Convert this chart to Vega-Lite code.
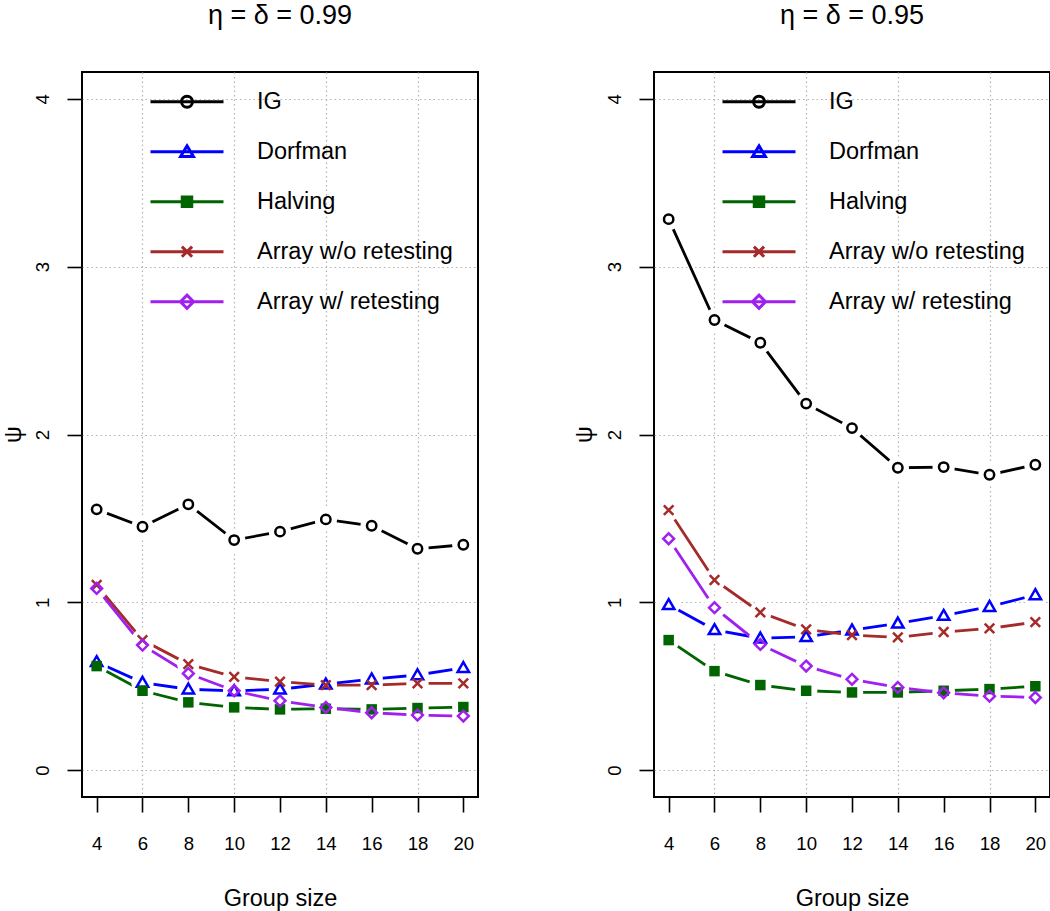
{
  "$schema": "https://vega.github.io/schema/vega-lite/v6.json",
  "padding": 0,
  "background": "white",
  "bounds": "flush",
  "spacing": 176,
  "config": {
    "font": "Liberation Sans",
    "view": {"stroke": "black", "strokeWidth": 2},
    "title": {"fontSize": 27, "fontWeight": "normal", "color": "black", "baseline": "middle", "offset": 34, "anchor": "middle", "frame": "group"},
    "axis": {
      "domain": false,
      "tickColor": "black",
      "tickWidth": 1.6,
      "tickSize": 15,
      "labelFontSize": 18.6,
      "labelColor": "black",
      "titleFontSize": 23.5,
      "titleFontWeight": "normal",
      "titleColor": "black",
      "gridColor": "#b4b4b4",
      "gridDash": [1.5, 3],
      "gridWidth": 1.2
    },
    "legend": {
      "title": null, "orient": "none", "legendX": 67, "legendY": -8.3,
      "symbolSize": 5329, "symbolStrokeWidth": 3, "labelFontSize": 23.5, "labelColor": "black", "labelLimit": 0,
      "labelOffset": 32, "rowPadding": -14.1, "padding": 0
    }
  },
  "resolve": {"scale": {"color": "independent", "x": "independent", "y": "independent"}, "legend": {"color": "independent"}},
  "datasets": {
    "psi": [
      {"panel": "0.99", "method": "IG", "x": 4, "y": 1.554},
      {"panel": "0.99", "method": "IG", "x": 6, "y": 1.45},
      {"panel": "0.99", "method": "IG", "x": 8, "y": 1.584},
      {"panel": "0.99", "method": "IG", "x": 10, "y": 1.371},
      {"panel": "0.99", "method": "IG", "x": 12, "y": 1.421},
      {"panel": "0.99", "method": "IG", "x": 14, "y": 1.494},
      {"panel": "0.99", "method": "IG", "x": 16, "y": 1.456},
      {"panel": "0.99", "method": "IG", "x": 18, "y": 1.319},
      {"panel": "0.99", "method": "IG", "x": 20, "y": 1.343},
      {"panel": "0.99", "method": "Dorfman", "x": 4, "y": 0.645},
      {"panel": "0.99", "method": "Dorfman", "x": 6, "y": 0.522},
      {"panel": "0.99", "method": "Dorfman", "x": 8, "y": 0.482},
      {"panel": "0.99", "method": "Dorfman", "x": 10, "y": 0.472},
      {"panel": "0.99", "method": "Dorfman", "x": 12, "y": 0.482},
      {"panel": "0.99", "method": "Dorfman", "x": 14, "y": 0.512},
      {"panel": "0.99", "method": "Dorfman", "x": 16, "y": 0.542},
      {"panel": "0.99", "method": "Dorfman", "x": 18, "y": 0.567},
      {"panel": "0.99", "method": "Dorfman", "x": 20, "y": 0.61},
      {"panel": "0.99", "method": "Halving", "x": 4, "y": 0.62},
      {"panel": "0.99", "method": "Halving", "x": 6, "y": 0.473},
      {"panel": "0.99", "method": "Halving", "x": 8, "y": 0.404},
      {"panel": "0.99", "method": "Halving", "x": 10, "y": 0.374},
      {"panel": "0.99", "method": "Halving", "x": 12, "y": 0.362},
      {"panel": "0.99", "method": "Halving", "x": 14, "y": 0.366},
      {"panel": "0.99", "method": "Halving", "x": 16, "y": 0.362},
      {"panel": "0.99", "method": "Halving", "x": 18, "y": 0.37},
      {"panel": "0.99", "method": "Halving", "x": 20, "y": 0.376},
      {"panel": "0.99", "method": "Array w/o retesting", "x": 4, "y": 1.103},
      {"panel": "0.99", "method": "Array w/o retesting", "x": 6, "y": 0.775},
      {"panel": "0.99", "method": "Array w/o retesting", "x": 8, "y": 0.632},
      {"panel": "0.99", "method": "Array w/o retesting", "x": 10, "y": 0.556},
      {"panel": "0.99", "method": "Array w/o retesting", "x": 12, "y": 0.527},
      {"panel": "0.99", "method": "Array w/o retesting", "x": 14, "y": 0.507},
      {"panel": "0.99", "method": "Array w/o retesting", "x": 16, "y": 0.507},
      {"panel": "0.99", "method": "Array w/o retesting", "x": 18, "y": 0.517},
      {"panel": "0.99", "method": "Array w/o retesting", "x": 20, "y": 0.517},
      {"panel": "0.99", "method": "Array w/ retesting", "x": 4, "y": 1.083},
      {"panel": "0.99", "method": "Array w/ retesting", "x": 6, "y": 0.745},
      {"panel": "0.99", "method": "Array w/ retesting", "x": 8, "y": 0.576},
      {"panel": "0.99", "method": "Array w/ retesting", "x": 10, "y": 0.473},
      {"panel": "0.99", "method": "Array w/ retesting", "x": 12, "y": 0.413},
      {"panel": "0.99", "method": "Array w/ retesting", "x": 14, "y": 0.374},
      {"panel": "0.99", "method": "Array w/ retesting", "x": 16, "y": 0.342},
      {"panel": "0.99", "method": "Array w/ retesting", "x": 18, "y": 0.328},
      {"panel": "0.99", "method": "Array w/ retesting", "x": 20, "y": 0.322},
      {"panel": "0.95", "method": "IG", "x": 4, "y": 3.283},
      {"panel": "0.95", "method": "IG", "x": 6, "y": 2.682},
      {"panel": "0.95", "method": "IG", "x": 8, "y": 2.547},
      {"panel": "0.95", "method": "IG", "x": 10, "y": 2.184},
      {"panel": "0.95", "method": "IG", "x": 12, "y": 2.038},
      {"panel": "0.95", "method": "IG", "x": 14, "y": 1.802},
      {"panel": "0.95", "method": "IG", "x": 16, "y": 1.806},
      {"panel": "0.95", "method": "IG", "x": 18, "y": 1.76},
      {"panel": "0.95", "method": "IG", "x": 20, "y": 1.82},
      {"panel": "0.95", "method": "Dorfman", "x": 4, "y": 0.985},
      {"panel": "0.95", "method": "Dorfman", "x": 6, "y": 0.836},
      {"panel": "0.95", "method": "Dorfman", "x": 8, "y": 0.786},
      {"panel": "0.95", "method": "Dorfman", "x": 10, "y": 0.794},
      {"panel": "0.95", "method": "Dorfman", "x": 12, "y": 0.834},
      {"panel": "0.95", "method": "Dorfman", "x": 14, "y": 0.875},
      {"panel": "0.95", "method": "Dorfman", "x": 16, "y": 0.921},
      {"panel": "0.95", "method": "Dorfman", "x": 18, "y": 0.974},
      {"panel": "0.95", "method": "Dorfman", "x": 20, "y": 1.044},
      {"panel": "0.95", "method": "Halving", "x": 4, "y": 0.775},
      {"panel": "0.95", "method": "Halving", "x": 6, "y": 0.59},
      {"panel": "0.95", "method": "Halving", "x": 8, "y": 0.507},
      {"panel": "0.95", "method": "Halving", "x": 10, "y": 0.473},
      {"panel": "0.95", "method": "Halving", "x": 12, "y": 0.463},
      {"panel": "0.95", "method": "Halving", "x": 14, "y": 0.463},
      {"panel": "0.95", "method": "Halving", "x": 16, "y": 0.473},
      {"panel": "0.95", "method": "Halving", "x": 18, "y": 0.483},
      {"panel": "0.95", "method": "Halving", "x": 20, "y": 0.5},
      {"panel": "0.95", "method": "Array w/o retesting", "x": 4, "y": 1.549},
      {"panel": "0.95", "method": "Array w/o retesting", "x": 6, "y": 1.133},
      {"panel": "0.95", "method": "Array w/o retesting", "x": 8, "y": 0.94},
      {"panel": "0.95", "method": "Array w/o retesting", "x": 10, "y": 0.839},
      {"panel": "0.95", "method": "Array w/o retesting", "x": 12, "y": 0.805},
      {"panel": "0.95", "method": "Array w/o retesting", "x": 14, "y": 0.791},
      {"panel": "0.95", "method": "Array w/o retesting", "x": 16, "y": 0.823},
      {"panel": "0.95", "method": "Array w/o retesting", "x": 18, "y": 0.845},
      {"panel": "0.95", "method": "Array w/o retesting", "x": 20, "y": 0.882},
      {"panel": "0.95", "method": "Array w/ retesting", "x": 4, "y": 1.379},
      {"panel": "0.95", "method": "Array w/ retesting", "x": 6, "y": 0.968},
      {"panel": "0.95", "method": "Array w/ retesting", "x": 8, "y": 0.749},
      {"panel": "0.95", "method": "Array w/ retesting", "x": 10, "y": 0.62},
      {"panel": "0.95", "method": "Array w/ retesting", "x": 12, "y": 0.541},
      {"panel": "0.95", "method": "Array w/ retesting", "x": 14, "y": 0.493},
      {"panel": "0.95", "method": "Array w/ retesting", "x": 16, "y": 0.461},
      {"panel": "0.95", "method": "Array w/ retesting", "x": 18, "y": 0.441},
      {"panel": "0.95", "method": "Array w/ retesting", "x": 20, "y": 0.433}
    ]
  },
  "hconcat": [
    {
      "title": "η = δ = 0.99",
      "width": 396,
      "height": 725,
      "data": {"name": "psi"},
      "transform": [{"filter": "datum.panel === '0.99'"}],
      "encoding": {
        "x": {
          "field": "x", "type": "quantitative",
          "scale": {"domain": [3.36, 20.64], "nice": false, "zero": false},
          "axis": {
            "title": "Group size", "values": [4, 6, 8, 10, 12, 14, 16, 18, 20],
            "grid": true,
            "gridOpacity": {"condition": {"test": "datum.value % 4 === 2", "value": 1}, "value": 0},
            "labelBaseline": "top", "labelPadding": 22,
            "titleBaseline": "alphabetic", "titleY": 108
          }
        },
        "y": {
          "field": "y", "type": "quantitative",
          "scale": {"domain": [-0.16, 4.16], "nice": false, "zero": false},
          "axis": {
            "title": "ψ", "values": [0, 1, 2, 3, 4], "grid": true,
            "labelAngle": 270, "labelAlign": "center", "labelBaseline": "alphabetic", "labelPadding": 19,
            "titleAngle": 270, "titleBaseline": "middle", "titleAlign": "center", "titleX": -69, "titleY": 362
          }
        }
      },
      "layer": [
        {
          "mark": {"type": "line", "strokeWidth": 2.8},
          "encoding": {
            "color": {
              "field": "method", "type": "nominal",
              "scale": {"domain": ["IG", "Dorfman", "Halving", "Array w/o retesting", "Array w/ retesting"], "range": ["#000000", "#0000ff", "#006400", "#a52a2a", "#a020f0"]},
              "legend": {
                "encode": {
                  "symbols": {
                    "update": {
                      "shape": {"signal": "datum.value === 'IG' ? 'M-1,0L1,0M-0.15,0A0.15,0.15 0 1,0 0.15,0A0.15,0.15 0 1,0 -0.15,0' : datum.value === 'Dorfman' ? 'M-1,0L1,0M0,-0.16L0.175,0.13L-0.175,0.13Z' : datum.value === 'Halving' ? 'M-1,0L1,0M-0.13,-0.13L0.13,-0.13L0.13,0.13L-0.13,0.13Z' : datum.value === 'Array w/o retesting' ? 'M-1,0L1,0M-0.14,-0.14L0.14,0.14M-0.14,0.14L0.14,-0.14' : 'M-1,0L1,0M0,-0.18L0.18,0L0,0.18L-0.18,0Z'"},
                      "fill": {"signal": "datum.value === 'Halving' ? '#006400' : 'transparent'"},
                      "strokeWidth": {"value": 3},
                      "opacity": {"value": 1}
                    }
                  }
                }
              }
            }
          }
        },
        {
          "mark": {"type": "point", "shape": "circle", "size": 500, "filled": true, "color": "white", "opacity": 1, "strokeWidth": 0}
        },
        {
          "transform": [{"filter": "datum.method === 'IG'"}],
          "mark": {"type": "point", "filled": false, "strokeWidth": 2.5, "opacity": 1, "size": 144, "color": "#000000", "shape": "M-0.78,0A0.78,0.78 0 1,0 0.78,0A0.78,0.78 0 1,0 -0.78,0"}
        },
        {
          "transform": [{"filter": "datum.method === 'Dorfman'"}],
          "mark": {"type": "point", "filled": false, "strokeWidth": 2.5, "opacity": 1, "size": 144, "color": "#0000ff", "shape": "M0,-0.95L0.95,0.7L-0.95,0.7Z"}
        },
        {
          "transform": [{"filter": "datum.method === 'Halving'"}],
          "mark": {"type": "point", "filled": true, "strokeWidth": 0, "opacity": 1, "size": 110, "color": "#006400", "shape": "square"}
        },
        {
          "transform": [{"filter": "datum.method === 'Array w/o retesting'"}],
          "mark": {"type": "point", "filled": false, "strokeWidth": 2.5, "opacity": 1, "size": 144, "color": "#a52a2a", "shape": "M-0.8,-0.8L0.8,0.8M-0.8,0.8L0.8,-0.8"}
        },
        {
          "transform": [{"filter": "datum.method === 'Array w/ retesting'"}],
          "mark": {"type": "point", "filled": false, "strokeWidth": 2.5, "opacity": 1, "size": 144, "color": "#a020f0", "shape": "M0,-0.9L0.9,0L0,0.9L-0.9,0Z"}
        }
      ]
    },
    {
      "title": "η = δ = 0.95",
      "width": 396,
      "height": 725,
      "data": {"name": "psi"},
      "transform": [{"filter": "datum.panel === '0.95'"}],
      "encoding": {
        "x": {
          "field": "x", "type": "quantitative",
          "scale": {"domain": [3.36, 20.64], "nice": false, "zero": false},
          "axis": {
            "title": "Group size", "values": [4, 6, 8, 10, 12, 14, 16, 18, 20],
            "grid": true,
            "gridOpacity": {"condition": {"test": "datum.value % 4 === 2", "value": 1}, "value": 0},
            "labelBaseline": "top", "labelPadding": 22,
            "titleBaseline": "alphabetic", "titleY": 108
          }
        },
        "y": {
          "field": "y", "type": "quantitative",
          "scale": {"domain": [-0.16, 4.16], "nice": false, "zero": false},
          "axis": {
            "title": "ψ", "values": [0, 1, 2, 3, 4], "grid": true,
            "labelAngle": 270, "labelAlign": "center", "labelBaseline": "alphabetic", "labelPadding": 19,
            "titleAngle": 270, "titleBaseline": "middle", "titleAlign": "center", "titleX": -70, "titleY": 362
          }
        }
      },
      "layer": [
        {
          "mark": {"type": "line", "strokeWidth": 2.8},
          "encoding": {
            "color": {
              "field": "method", "type": "nominal",
              "scale": {"domain": ["IG", "Dorfman", "Halving", "Array w/o retesting", "Array w/ retesting"], "range": ["#000000", "#0000ff", "#006400", "#a52a2a", "#a020f0"]},
              "legend": {
                "encode": {
                  "symbols": {
                    "update": {
                      "shape": {"signal": "datum.value === 'IG' ? 'M-1,0L1,0M-0.15,0A0.15,0.15 0 1,0 0.15,0A0.15,0.15 0 1,0 -0.15,0' : datum.value === 'Dorfman' ? 'M-1,0L1,0M0,-0.16L0.175,0.13L-0.175,0.13Z' : datum.value === 'Halving' ? 'M-1,0L1,0M-0.13,-0.13L0.13,-0.13L0.13,0.13L-0.13,0.13Z' : datum.value === 'Array w/o retesting' ? 'M-1,0L1,0M-0.14,-0.14L0.14,0.14M-0.14,0.14L0.14,-0.14' : 'M-1,0L1,0M0,-0.18L0.18,0L0,0.18L-0.18,0Z'"},
                      "fill": {"signal": "datum.value === 'Halving' ? '#006400' : 'transparent'"},
                      "strokeWidth": {"value": 3},
                      "opacity": {"value": 1}
                    }
                  }
                }
              }
            }
          }
        },
        {
          "mark": {"type": "point", "shape": "circle", "size": 500, "filled": true, "color": "white", "opacity": 1, "strokeWidth": 0}
        },
        {
          "transform": [{"filter": "datum.method === 'IG'"}],
          "mark": {"type": "point", "filled": false, "strokeWidth": 2.5, "opacity": 1, "size": 144, "color": "#000000", "shape": "M-0.78,0A0.78,0.78 0 1,0 0.78,0A0.78,0.78 0 1,0 -0.78,0"}
        },
        {
          "transform": [{"filter": "datum.method === 'Dorfman'"}],
          "mark": {"type": "point", "filled": false, "strokeWidth": 2.5, "opacity": 1, "size": 144, "color": "#0000ff", "shape": "M0,-0.95L0.95,0.7L-0.95,0.7Z"}
        },
        {
          "transform": [{"filter": "datum.method === 'Halving'"}],
          "mark": {"type": "point", "filled": true, "strokeWidth": 0, "opacity": 1, "size": 110, "color": "#006400", "shape": "square"}
        },
        {
          "transform": [{"filter": "datum.method === 'Array w/o retesting'"}],
          "mark": {"type": "point", "filled": false, "strokeWidth": 2.5, "opacity": 1, "size": 144, "color": "#a52a2a", "shape": "M-0.8,-0.8L0.8,0.8M-0.8,0.8L0.8,-0.8"}
        },
        {
          "transform": [{"filter": "datum.method === 'Array w/ retesting'"}],
          "mark": {"type": "point", "filled": false, "strokeWidth": 2.5, "opacity": 1, "size": 144, "color": "#a020f0", "shape": "M0,-0.9L0.9,0L0,0.9L-0.9,0Z"}
        }
      ]
    }
  ]
}
